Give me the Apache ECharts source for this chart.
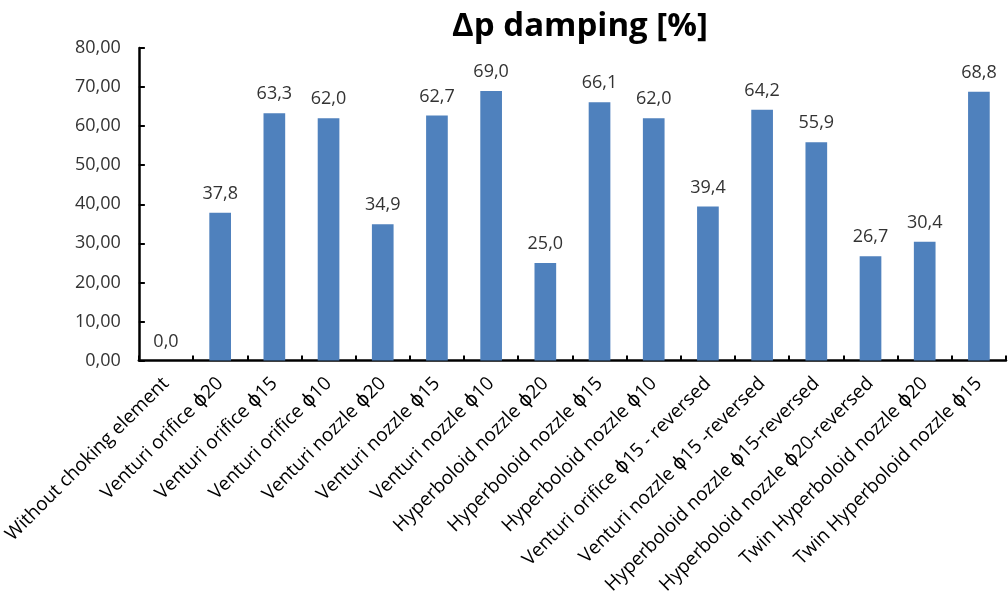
<!DOCTYPE html>
<html lang="en">
<head>
    <meta charset="UTF-8">
    <title>Δp damping</title>
    <script src="https://cdn.jsdelivr.net/npm/echarts@6/dist/echarts.min.js"></script>
    <style>
        html, body { margin: 0; padding: 0; background: #fff; }
        #chart { width: 1008px; height: 597px; }
    </style>
</head>
<body>
<div id="chart"></div>
<script>
var categories = [
    'Without choking element',
    'Venturi orifice ϕ20',
    'Venturi orifice ϕ15',
    'Venturi orifice ϕ10',
    'Venturi nozzle ϕ20',
    'Venturi nozzle ϕ15',
    'Venturi nozzle ϕ10',
    'Hyperboloid nozzle ϕ20',
    'Hyperboloid nozzle ϕ15',
    'Hyperboloid nozzle ϕ10',
    'Venturi orifice ϕ15 - reversed',
    'Venturi nozzle ϕ15 -reversed',
    'Hyperboloid nozzle ϕ15-reversed',
    'Hyperboloid nozzle ϕ20-reversed',
    'Twin Hyperboloid nozzle ϕ20',
    'Twin Hyperboloid nozzle ϕ15'
];
var damping = [0.0, 37.8, 63.3, 62.0, 34.9, 62.7, 69.0, 25.0, 66.1, 62.0, 39.4, 64.2, 55.9, 26.7, 30.4, 68.8];

var font = '"Open Sans", "DejaVu Sans", sans-serif';

var myChart = echarts.init(document.getElementById('chart'));
myChart.setOption({
    animation: false,
    title: {
        text: 'Δp damping [%]',
        left: 575,
        textAlign: 'center',
        top: 5,
        textStyle: { fontFamily: font, fontSize: 33, fontWeight: 'bold', color: '#000' }
    },
    grid: { left: 138, right: 2, top: 48, bottom: 235 },
    xAxis: {
        type: 'category',
        data: categories,
        axisLine: { lineStyle: { color: '#000', width: 2.5 } },
        axisTick: { show: true, inside: true, length: 5, lineStyle: { color: '#000', width: 2 } },
        axisLabel: {
            interval: 0,
            rotate: 45,
            margin: 20,
            fontFamily: font,
            fontSize: 19,
            color: '#000'
        }
    },
    yAxis: {
        type: 'value',
        min: 0,
        max: 80,
        interval: 10,
        splitLine: { show: false },
        axisLine: { show: true, lineStyle: { color: '#000', width: 2.5 } },
        axisTick: { show: true, inside: true, length: 6, lineStyle: { color: '#000', width: 2 } },
        axisLabel: {
            margin: 18,
            fontFamily: font,
            fontSize: 18,
            color: '#333',
            formatter: function (v) { return v.toFixed(2).replace('.', ','); }
        }
    },
    series: [{
        type: 'bar',
        data: damping,
        barWidth: '40%',
        itemStyle: { color: '#4F81BD' },
        label: {
            show: true,
            position: 'top',
            distance: 10,
            fontFamily: font,
            fontSize: 18,
            color: '#333',
            formatter: function (p) { return p.value.toFixed(1).replace('.', ','); }
        }
    }]
});
</script>
</body>
</html>
